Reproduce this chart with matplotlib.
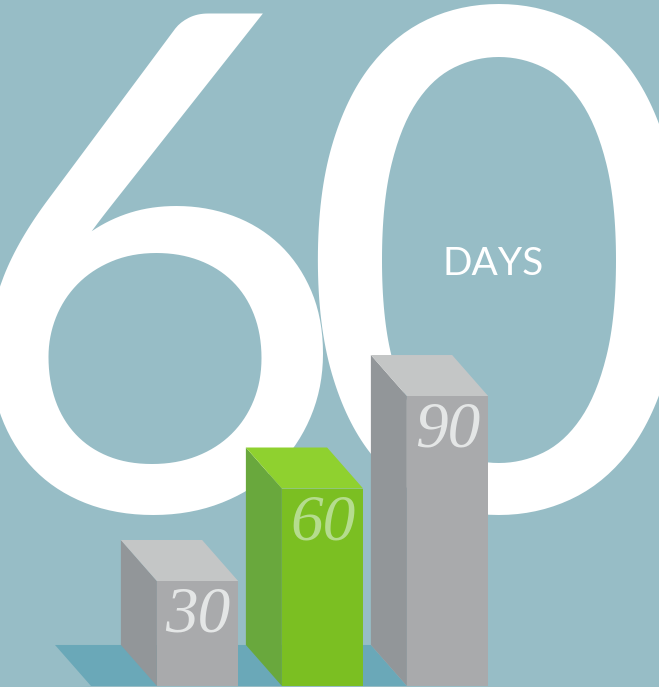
import matplotlib
matplotlib.use('Agg')
import matplotlib.pyplot as plt
import matplotlib.patches as mpatches

# ── data ──
labels = ['30', '60', '90']
values = [30, 60, 90]
positions = [0, 1, 2]

C = {
    'bg':        '#97bdc6',
    'floor':     '#6aa8b8',
    'big':       '#ffffff',
    'gray_top':  '#c4c6c6',
    'gray_side': '#929699',
    'gray_front':'#a9aaac',
    'gray_txt':  '#e4e6e6',
    'grn_top':   '#8fd12f',
    'grn_side':  '#69a83d',
    'grn_front': '#7bbf22',
    'grn_txt':   '#b5dc8e',
}
face_colors = [
    (C['gray_front'], C['gray_side'], C['gray_top'], C['gray_txt']),
    (C['grn_front'], C['grn_side'], C['grn_top'], C['grn_txt']),
    (C['gray_front'], C['gray_side'], C['gray_top'], C['gray_txt']),
]

W, H = 659, 687
fig = plt.figure(figsize=(W / 100, H / 100), dpi=100)
fig.patch.set_facecolor(C['bg'])
ax = fig.add_axes([0, 0, 1, 1])
ax.set_facecolor(C['bg'])
ax.set_xlim(-1.58, 3.692)
ax.set_ylim(-4.38, 218.45)
ax.axis('off')

base = -4.05       # floor line (front)
bw = 0.65          # bar width
dx, dy = 0.288, 13.3   # 3D depth offset (back is up-left)


def px(x, y):
    return x / W, 1 - y / H


# ── big "60" + DAYS ──
ax.text(*px(152, 509), '6', transform=fig.transFigure, ha='center', va='baseline',
        fontsize=498, color=C['big'], family='Lato', zorder=1)
ax.text(*px(498, 510), '0', transform=fig.transFigure, ha='center', va='baseline',
        fontsize=502, color=C['big'], family='Lato', zorder=1)
ax.text(*px(443, 275), 'DAYS', transform=fig.transFigure, ha='left', va='baseline',
        fontsize=28, color=C['big'], family='Lato', zorder=1)

# ── floor ──
fl = positions[0] - 0.852
fr = positions[-1] - bw / 2
ax.add_patch(mpatches.Polygon([(fl, base), (fr, base), (fr - dx, base + dy), (fl - dx, base + dy)],
                              closed=True, facecolor=C['floor'], edgecolor='none', zorder=2))

# ── bars ──
for i, (x, v, lab) in enumerate(zip(positions, values, labels)):
    front, side, top, txt = face_colors[i]
    z = 3 + i
    ax.bar(x, v - base, bottom=base, width=bw, color=front, edgecolor='none', zorder=z)
    l, r = x - bw / 2, x + bw / 2
    ax.add_patch(mpatches.Polygon([(l, base), (l, v), (l - dx, v + dy), (l - dx, base + dy)],
                                  closed=True, facecolor=side, edgecolor='none', zorder=z))
    ax.add_patch(mpatches.Polygon([(l, v), (r, v), (r - dx, v + dy), (l - dx, v + dy)],
                                  closed=True, facecolor=top, edgecolor='none', zorder=z))
    ax.text(x, v - 16.5, lab, ha='center', va='baseline', fontsize=47,
            family='Liberation Serif', style='italic', color=txt, zorder=z + 0.5)

fig.savefig('out.png', dpi=100, facecolor=C['bg'])
plt.close()
